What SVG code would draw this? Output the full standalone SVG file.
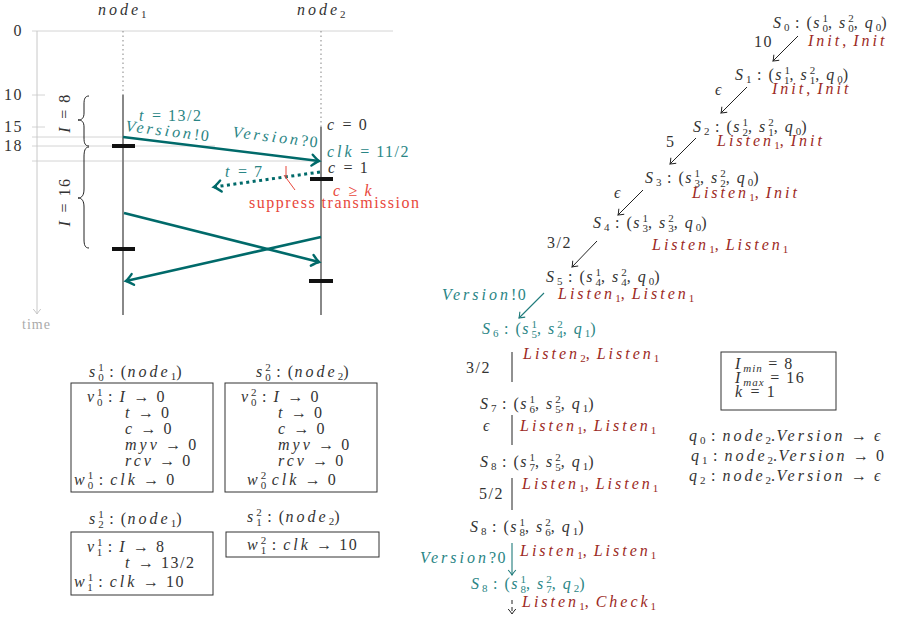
<svg xmlns="http://www.w3.org/2000/svg" width="903" height="617" viewBox="0 0 903 617" font-family="'Liberation Serif', 'DejaVu Serif', serif">
<style>
text{font-family:"Liberation Serif","DejaVu Serif",serif;font-size:16px;fill:#333;letter-spacing:1.5px}
.i{font-style:italic;letter-spacing:3px}
.s{font-size:11px;letter-spacing:0}
.si{font-size:11px;letter-spacing:1px;font-style:italic}
.red{fill:#9c2a24}
.tl{fill:#2a8585}
.rr{fill:#e8473b}
.g{fill:#aaa}
.grid{stroke:#d4d4d4;stroke-width:1;fill:none}
.life{stroke:#888;stroke-width:2;fill:none}
.dot{stroke:#999;stroke-width:1.2;stroke-dasharray:1.5 3;fill:none}
.bar{stroke:#111;stroke-width:4}
.msg{stroke:#006a6a;stroke-width:2.6;fill:none}
.box{fill:none;stroke:#333;stroke-width:1}
.ed{stroke:#222;stroke-width:1;fill:none}
.edt{stroke:#1f7a7a;stroke-width:1.1;fill:none}
</style>
<defs>
<marker id="big" viewBox="-10 -7 12 14" refX="0" refY="0" markerWidth="12" markerHeight="14" orient="auto" markerUnits="userSpaceOnUse" overflow="visible"><path d="M-7,-5.5 Q-2,-1 0,0 Q-2,1 -7,5.5" fill="none" stroke="#006a6a" stroke-width="2.4" stroke-linecap="round"/></marker>
<marker id="blk" viewBox="-8 -5 10 10" refX="0" refY="0" markerWidth="10" markerHeight="10" orient="auto" markerUnits="userSpaceOnUse" overflow="visible"><path d="M-5,-3.8 Q-1.5,-0.8 0,0 Q-1.5,0.8 -5,3.8" fill="none" stroke="#222" stroke-width="1"/></marker>
<marker id="tls" viewBox="-8 -5 10 10" refX="0" refY="0" markerWidth="10" markerHeight="10" orient="auto" markerUnits="userSpaceOnUse" overflow="visible"><path d="M-5,-3.8 Q-1.5,-0.8 0,0 Q-1.5,0.8 -5,3.8" fill="none" stroke="#1f7a7a" stroke-width="1.1"/></marker>
<marker id="gry" viewBox="-8 -5 10 10" refX="0" refY="0" markerWidth="10" markerHeight="10" orient="auto" markerUnits="userSpaceOnUse" overflow="visible"><path d="M-5,-3.8 Q-1.5,-0.8 0,0 Q-1.5,0.8 -5,3.8" fill="none" stroke="#c8c8c8" stroke-width="1"/></marker>
</defs>

<g id="timeline">
<line class="grid" x1="32" y1="31" x2="393" y2="31"/>
<line class="grid" x1="32" y1="95" x2="45" y2="95"/>
<line class="grid" x1="32" y1="127" x2="45" y2="127"/>
<line class="grid" x1="32" y1="137" x2="123" y2="137"/>
<line class="grid" x1="32" y1="146" x2="215" y2="146"/>
<line class="grid" x1="32" y1="161" x2="321" y2="161"/>
<line x1="37" y1="31" x2="37" y2="314" stroke="#c8c8c8" stroke-width="1" marker-end="url(#gry)"/>
<text x="23" y="36" text-anchor="end">0</text>
<text x="23" y="100" text-anchor="end">10</text>
<text x="23" y="132" text-anchor="end">15</text>
<text x="23" y="151" text-anchor="end">18</text>
<text x="22" y="329" class="g" style="font-size:14px;letter-spacing:1px">time</text>
<text x="98" y="15"><tspan class="i">node</tspan><tspan class="s" dy="3">1</tspan></text>
<text x="297" y="15"><tspan class="i">node</tspan><tspan class="s" dy="3">2</tspan></text>
<line class="dot" x1="123" y1="31" x2="123" y2="95"/>
<line class="life" x1="123" y1="95" x2="123" y2="315"/>
<line class="dot" x1="321" y1="31" x2="321" y2="127"/>
<line class="life" x1="321" y1="127" x2="321" y2="315"/>
<line class="bar" x1="112" y1="146" x2="135" y2="146"/>
<line class="bar" x1="112" y1="249" x2="135" y2="249"/>
<line class="bar" x1="310" y1="179" x2="333" y2="179"/>
<line class="bar" x1="309" y1="281" x2="333" y2="281"/>
<path d="M89,96 C85,96 84,99 84,104 L84,113 C84,118 82,120 78,120 C82,120 84,122 84,127 L84,138 C84,143 85,146 89,146" fill="none" stroke="#222" stroke-width="1"/>
<path d="M89,147 C85,147 84,151 84,157 L84,189 C84,195 82,198 78,198 C82,198 84,201 84,207 L84,239 C84,245 85,248 89,248" fill="none" stroke="#222" stroke-width="1"/>
<text x="65" y="113" text-anchor="middle" transform="rotate(-90 65 113)" dy="5"><tspan class="i">I</tspan> = 8</text>
<text x="65" y="202" text-anchor="middle" transform="rotate(-90 65 202)" dy="5"><tspan class="i">I</tspan> = 16</text>
<text x="139" y="121" class="tl"><tspan class="i">t</tspan> = 13/2</text>
<text x="125" y="131" class="tl" transform="rotate(7 125 131)"><tspan class="i">Version</tspan>!0</text>
<text x="232" y="137" class="tl" transform="rotate(7 232 137)"><tspan class="i">Version</tspan>?0</text>
<text x="327" y="130"><tspan class="i">c</tspan> = 0</text>
<text x="327" y="157" class="tl"><tspan class="i">clk</tspan> = 11/2</text>
<text x="328" y="173"><tspan class="i">c</tspan> = 1</text>
<text x="225" y="177" class="tl"><tspan class="i">t</tspan> = 7</text>
<text x="333" y="196" class="rr"><tspan class="i">c</tspan> ≥ <tspan class="i">k</tspan></text>
<text x="249" y="208" class="rr">suppress transmission</text>
</g>

<g id="messages">
<line class="msg" x1="123" y1="137" x2="319" y2="161" marker-end="url(#big)"/>
<line x1="320" y1="172" x2="214" y2="187" stroke="#006a6a" stroke-width="3" stroke-dasharray="3 3.5" marker-end="url(#big)"/>
<line x1="286" y1="166" x2="286" y2="178" stroke="#e8473b" stroke-width="1"/>
<line x1="284" y1="175" x2="295" y2="190" stroke="#e8473b" stroke-width="1"/>
<line class="msg" x1="124" y1="213" x2="319" y2="262" marker-end="url(#big)"/>
<line class="msg" x1="321" y1="237" x2="126" y2="281" marker-end="url(#big)"/>
</g>

<g id="box-s10">
<text x="89" y="377"><tspan class="i">s</tspan><tspan class="s" dy="-6">1</tspan><tspan class="s" dx="-5.5" dy="10">0</tspan><tspan dy="-4"> : (</tspan><tspan class="i">node</tspan><tspan class="s" dy="3">1</tspan><tspan dy="-3">)</tspan></text>
<rect class="box" x="71" y="383" width="142" height="109"/>
<text x="87" y="402"><tspan class="i">v</tspan><tspan class="s" dy="-6">1</tspan><tspan class="s" dx="-5.5" dy="10">0</tspan><tspan dy="-4"> : </tspan><tspan class="i">I</tspan> → 0</text>
<text x="125" y="418"><tspan class="i">t</tspan> → 0</text>
<text x="125" y="434"><tspan class="i">c</tspan> → 0</text>
<text x="125" y="450"><tspan class="i">myv</tspan> → 0</text>
<text x="125" y="466"><tspan class="i">rcv</tspan> → 0</text>
<text x="74" y="485"><tspan class="i">w</tspan><tspan class="s" dy="-6">1</tspan><tspan class="s" dx="-5.5" dy="10">0</tspan><tspan dy="-4"> : </tspan><tspan class="i">clk</tspan> → 0</text>
</g>
<g id="box-s20">
<text x="256" y="377"><tspan class="i">s</tspan><tspan class="s" dy="-6">2</tspan><tspan class="s" dx="-5.5" dy="10">0</tspan><tspan dy="-4"> : (</tspan><tspan class="i">node</tspan><tspan class="s" dy="3">2</tspan><tspan dy="-3">)</tspan></text>
<rect class="box" x="225" y="383" width="152" height="109"/>
<text x="241" y="402"><tspan class="i">v</tspan><tspan class="s" dy="-6">2</tspan><tspan class="s" dx="-5.5" dy="10">0</tspan><tspan dy="-4"> : </tspan><tspan class="i">I</tspan> → 0</text>
<text x="278" y="418"><tspan class="i">t</tspan> → 0</text>
<text x="278" y="434"><tspan class="i">c</tspan> → 0</text>
<text x="278" y="450"><tspan class="i">myv</tspan> → 0</text>
<text x="278" y="466"><tspan class="i">rcv</tspan> → 0</text>
<text x="247" y="485"><tspan class="i">w</tspan><tspan class="s" dy="-6">2</tspan><tspan class="s" dx="-5.5" dy="10">0</tspan><tspan dy="-4"> </tspan><tspan class="i">clk</tspan> → 0</text>
</g>
<g id="box-s12">
<text x="89" y="524"><tspan class="i">s</tspan><tspan class="s" dy="-6">1</tspan><tspan class="s" dx="-5.5" dy="10">2</tspan><tspan dy="-4"> : (</tspan><tspan class="i">node</tspan><tspan class="s" dy="3">1</tspan><tspan dy="-3">)</tspan></text>
<rect class="box" x="71" y="532" width="142" height="63"/>
<text x="87" y="552"><tspan class="i">v</tspan><tspan class="s" dy="-6">1</tspan><tspan class="s" dx="-5.5" dy="10">1</tspan><tspan dy="-4"> : </tspan><tspan class="i">I</tspan> → 8</text>
<text x="125" y="568"><tspan class="i">t</tspan> → 13/2</text>
<text x="74" y="587"><tspan class="i">w</tspan><tspan class="s" dy="-6">1</tspan><tspan class="s" dx="-5.5" dy="10">1</tspan><tspan dy="-4"> : </tspan><tspan class="i">clk</tspan> → 10</text>
</g>
<g id="box-s21">
<text x="247" y="522"><tspan class="i">s</tspan><tspan class="s" dy="-6">2</tspan><tspan class="s" dx="-5.5" dy="10">1</tspan><tspan dy="-4"> : (</tspan><tspan class="i">node</tspan><tspan class="s" dy="3">2</tspan><tspan dy="-3">)</tspan></text>
<rect class="box" x="226" y="532" width="153" height="25"/>
<text x="247" y="550"><tspan class="i">w</tspan><tspan class="s" dy="-6">2</tspan><tspan class="s" dx="-5.5" dy="10">1</tspan><tspan dy="-4"> : </tspan><tspan class="i">clk</tspan> → 10</text>
</g>

<g id="S0">
<text x="773" y="28"><tspan class="i">S</tspan><tspan class="s" dy="3">0</tspan><tspan dy="-3"> : (</tspan><tspan class="i">s</tspan><tspan class="s" dy="-6">1</tspan><tspan class="s" dx="-5.5" dy="10">0</tspan><tspan dy="-4">, </tspan><tspan class="i">s</tspan><tspan class="s" dy="-6">2</tspan><tspan class="s" dx="-5.5" dy="10">0</tspan><tspan dy="-4">, </tspan><tspan class="i">q</tspan><tspan class="s" dy="3">0</tspan><tspan dy="-3">)</tspan></text>
<text x="808" y="46" class="red"><tspan class="i">Init</tspan>, <tspan class="i">Init</tspan></text>
</g>
<g id="S1">
<text x="735" y="80"><tspan class="i">S</tspan><tspan class="s" dy="3">1</tspan><tspan dy="-3"> : (</tspan><tspan class="i">s</tspan><tspan class="s" dy="-6">1</tspan><tspan class="s" dx="-5.5" dy="10">1</tspan><tspan dy="-4">, </tspan><tspan class="i">s</tspan><tspan class="s" dy="-6">2</tspan><tspan class="s" dx="-5.5" dy="10">1</tspan><tspan dy="-4">, </tspan><tspan class="i">q</tspan><tspan class="s" dy="3">0</tspan><tspan dy="-3">)</tspan></text>
<text x="772" y="94" class="red"><tspan class="i">Init</tspan>, <tspan class="i">Init</tspan></text>
</g>
<g id="S2">
<text x="693" y="132"><tspan class="i">S</tspan><tspan class="s" dy="3">2</tspan><tspan dy="-3"> : (</tspan><tspan class="i">s</tspan><tspan class="s" dy="-6">1</tspan><tspan class="s" dx="-5.5" dy="10">2</tspan><tspan dy="-4">, </tspan><tspan class="i">s</tspan><tspan class="s" dy="-6">2</tspan><tspan class="s" dx="-5.5" dy="10">1</tspan><tspan dy="-4">, </tspan><tspan class="i">q</tspan><tspan class="s" dy="3">0</tspan><tspan dy="-3">)</tspan></text>
<text x="717" y="146" class="red"><tspan class="i">Listen</tspan><tspan class="s" dy="3">1</tspan><tspan dy="-3">, </tspan><tspan class="i">Init</tspan></text>
</g>
<g id="S3">
<text x="645" y="183"><tspan class="i">S</tspan><tspan class="s" dy="3">3</tspan><tspan dy="-3"> : (</tspan><tspan class="i">s</tspan><tspan class="s" dy="-6">1</tspan><tspan class="s" dx="-5.5" dy="10">3</tspan><tspan dy="-4">, </tspan><tspan class="i">s</tspan><tspan class="s" dy="-6">2</tspan><tspan class="s" dx="-5.5" dy="10">2</tspan><tspan dy="-4">, </tspan><tspan class="i">q</tspan><tspan class="s" dy="3">0</tspan><tspan dy="-3">)</tspan></text>
<text x="692" y="198" class="red"><tspan class="i">Listen</tspan><tspan class="s" dy="3">1</tspan><tspan dy="-3">, </tspan><tspan class="i">Init</tspan></text>
</g>
<g id="S4">
<text x="593" y="228"><tspan class="i">S</tspan><tspan class="s" dy="3">4</tspan><tspan dy="-3"> : (</tspan><tspan class="i">s</tspan><tspan class="s" dy="-6">1</tspan><tspan class="s" dx="-5.5" dy="10">3</tspan><tspan dy="-4">, </tspan><tspan class="i">s</tspan><tspan class="s" dy="-6">2</tspan><tspan class="s" dx="-5.5" dy="10">3</tspan><tspan dy="-4">, </tspan><tspan class="i">q</tspan><tspan class="s" dy="3">0</tspan><tspan dy="-3">)</tspan></text>
<text x="652" y="250" class="red"><tspan class="i">Listen</tspan><tspan class="s" dy="3">1</tspan><tspan dy="-3">, </tspan><tspan class="i">Listen</tspan><tspan class="s" dy="3">1</tspan></text>
</g>
<g id="S5">
<text x="546" y="282"><tspan class="i">S</tspan><tspan class="s" dy="3">5</tspan><tspan dy="-3"> : (</tspan><tspan class="i">s</tspan><tspan class="s" dy="-6">1</tspan><tspan class="s" dx="-5.5" dy="10">4</tspan><tspan dy="-4">, </tspan><tspan class="i">s</tspan><tspan class="s" dy="-6">2</tspan><tspan class="s" dx="-5.5" dy="10">4</tspan><tspan dy="-4">, </tspan><tspan class="i">q</tspan><tspan class="s" dy="3">0</tspan><tspan dy="-3">)</tspan></text>
<text x="558" y="299" class="red"><tspan class="i">Listen</tspan><tspan class="s" dy="3">1</tspan><tspan dy="-3">, </tspan><tspan class="i">Listen</tspan><tspan class="s" dy="3">1</tspan></text>
</g>
<g id="S6">
<text x="482" y="334" class="tl"><tspan class="i">S</tspan><tspan class="s" dy="3">6</tspan><tspan dy="-3"> : (</tspan><tspan class="i">s</tspan><tspan class="s" dy="-6">1</tspan><tspan class="s" dx="-5.5" dy="10">5</tspan><tspan dy="-4">, </tspan><tspan class="i">s</tspan><tspan class="s" dy="-6">2</tspan><tspan class="s" dx="-5.5" dy="10">4</tspan><tspan dy="-4">, </tspan><tspan class="i">q</tspan><tspan class="s" dy="3">1</tspan><tspan dy="-3">)</tspan></text>
<text x="523" y="359" class="red"><tspan class="i">Listen</tspan><tspan class="s" dy="3">2</tspan><tspan dy="-3">, </tspan><tspan class="i">Listen</tspan><tspan class="s" dy="3">1</tspan></text>
</g>
<g id="S7">
<text x="480" y="409"><tspan class="i">S</tspan><tspan class="s" dy="3">7</tspan><tspan dy="-3"> : (</tspan><tspan class="i">s</tspan><tspan class="s" dy="-6">1</tspan><tspan class="s" dx="-5.5" dy="10">6</tspan><tspan dy="-4">, </tspan><tspan class="i">s</tspan><tspan class="s" dy="-6">2</tspan><tspan class="s" dx="-5.5" dy="10">5</tspan><tspan dy="-4">, </tspan><tspan class="i">q</tspan><tspan class="s" dy="3">1</tspan><tspan dy="-3">)</tspan></text>
<text x="520" y="431" class="red"><tspan class="i">Listen</tspan><tspan class="s" dy="3">1</tspan><tspan dy="-3">, </tspan><tspan class="i">Listen</tspan><tspan class="s" dy="3">1</tspan></text>
</g>
<g id="S8a">
<text x="480" y="467"><tspan class="i">S</tspan><tspan class="s" dy="3">8</tspan><tspan dy="-3"> : (</tspan><tspan class="i">s</tspan><tspan class="s" dy="-6">1</tspan><tspan class="s" dx="-5.5" dy="10">7</tspan><tspan dy="-4">, </tspan><tspan class="i">s</tspan><tspan class="s" dy="-6">2</tspan><tspan class="s" dx="-5.5" dy="10">5</tspan><tspan dy="-4">, </tspan><tspan class="i">q</tspan><tspan class="s" dy="3">1</tspan><tspan dy="-3">)</tspan></text>
<text x="522" y="489" class="red"><tspan class="i">Listen</tspan><tspan class="s" dy="3">1</tspan><tspan dy="-3">, </tspan><tspan class="i">Listen</tspan><tspan class="s" dy="3">1</tspan></text>
</g>
<g id="S8b">
<text x="470" y="532"><tspan class="i">S</tspan><tspan class="s" dy="3">8</tspan><tspan dy="-3"> : (</tspan><tspan class="i">s</tspan><tspan class="s" dy="-6">1</tspan><tspan class="s" dx="-5.5" dy="10">8</tspan><tspan dy="-4">, </tspan><tspan class="i">s</tspan><tspan class="s" dy="-6">2</tspan><tspan class="s" dx="-5.5" dy="10">6</tspan><tspan dy="-4">, </tspan><tspan class="i">q</tspan><tspan class="s" dy="3">1</tspan><tspan dy="-3">)</tspan></text>
<text x="520" y="556" class="red"><tspan class="i">Listen</tspan><tspan class="s" dy="3">1</tspan><tspan dy="-3">, </tspan><tspan class="i">Listen</tspan><tspan class="s" dy="3">1</tspan></text>
</g>
<g id="S8c">
<text x="471" y="589" class="tl"><tspan class="i">S</tspan><tspan class="s" dy="3">8</tspan><tspan dy="-3"> : (</tspan><tspan class="i">s</tspan><tspan class="s" dy="-6">1</tspan><tspan class="s" dx="-5.5" dy="10">8</tspan><tspan dy="-4">, </tspan><tspan class="i">s</tspan><tspan class="s" dy="-6">2</tspan><tspan class="s" dx="-5.5" dy="10">7</tspan><tspan dy="-4">, </tspan><tspan class="i">q</tspan><tspan class="s" dy="3">2</tspan><tspan dy="-3">)</tspan></text>
<text x="522" y="607" class="red"><tspan class="i">Listen</tspan><tspan class="s" dy="3">1</tspan><tspan dy="-3">, </tspan><tspan class="i">Check</tspan><tspan class="s" dy="3">1</tspan></text>
</g>

<g id="connectors">
<line class="ed" x1="798" y1="36" x2="773" y2="61" marker-end="url(#blk)"/>
<line class="ed" x1="747" y1="87" x2="721" y2="113" marker-end="url(#blk)"/>
<line class="ed" x1="696" y1="138" x2="670" y2="164" marker-end="url(#blk)"/>
<line class="ed" x1="643" y1="190" x2="618" y2="215" marker-end="url(#blk)"/>
<line class="ed" x1="597" y1="241" x2="572" y2="267" marker-end="url(#blk)"/>
<line class="edt" x1="544" y1="293" x2="519" y2="318" marker-end="url(#tls)"/>
<line class="ed" x1="512" y1="352" x2="512" y2="382"/>
<line class="ed" x1="512" y1="415" x2="512" y2="445"/>
<line class="ed" x1="512" y1="478" x2="512" y2="510"/>
<line class="edt" x1="512" y1="543" x2="512" y2="575" marker-end="url(#tls)"/>
<line class="ed" x1="512" y1="600" x2="512" y2="614" stroke-dasharray="4 3" marker-end="url(#blk)"/>
<text x="754" y="47">10</text>
<text x="715" y="95" class="i">ϵ</text>
<text x="666" y="147">5</text>
<text x="614" y="198" class="i">ϵ</text>
<text x="547" y="248">3/2</text>
<text x="442" y="300" class="tl"><tspan class="i">Version</tspan>!0</text>
<text x="466" y="373">3/2</text>
<text x="483" y="431" class="i">ϵ</text>
<text x="479" y="499">5/2</text>
<text x="420" y="563" class="tl"><tspan class="i">Version</tspan>?0</text>
</g>

<g id="params">
<rect class="box" x="721" y="352" width="115" height="58"/>
<text x="735" y="369"><tspan class="i">I</tspan><tspan class="si" dy="3">min</tspan><tspan dy="-3"> = 8</tspan></text>
<text x="735" y="383"><tspan class="i">I</tspan><tspan class="si" dy="3">max</tspan><tspan dy="-3"> = 16</tspan></text>
<text x="735" y="397"><tspan class="i">k</tspan> = 1</text>
</g>
<g id="queues">
<text x="689" y="441"><tspan class="i">q</tspan><tspan class="s" dy="3">0</tspan><tspan dy="-3"> : </tspan><tspan class="i">node</tspan><tspan class="s" dy="3">2</tspan><tspan dy="-3">.</tspan><tspan class="i">Version</tspan> → <tspan class="i">ϵ</tspan></text>
<text x="691" y="461"><tspan class="i">q</tspan><tspan class="s" dy="3">1</tspan><tspan dy="-3"> : </tspan><tspan class="i">node</tspan><tspan class="s" dy="3">2</tspan><tspan dy="-3">.</tspan><tspan class="i">Version</tspan> → 0</text>
<text x="689" y="481"><tspan class="i">q</tspan><tspan class="s" dy="3">2</tspan><tspan dy="-3"> : </tspan><tspan class="i">node</tspan><tspan class="s" dy="3">2</tspan><tspan dy="-3">.</tspan><tspan class="i">Version</tspan> → <tspan class="i">ϵ</tspan></text>
</g>
</svg>
